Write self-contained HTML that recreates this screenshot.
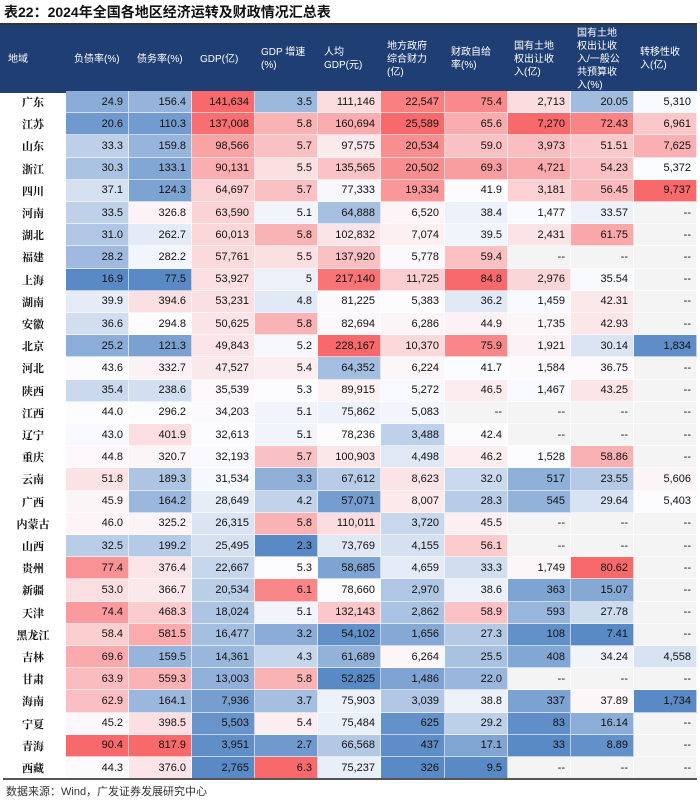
<!DOCTYPE html>
<html><head><meta charset="utf-8">
<style>
body{margin:0;width:700px;height:802px;background:#fff;font-family:"Liberation Sans","Noto Sans CJK SC",sans-serif;position:relative;overflow:hidden}
#title{position:absolute;left:4px;top:2px;font-size:14px;font-weight:bold;color:#111;font-family:"Liberation Sans","Noto Sans CJK SC",sans-serif}
#hdr{position:absolute;left:0;top:23px;width:697px;height:68px;background:#1f3f74;border-top:2px solid #333}
.h{position:absolute;color:#fff;font-size:10px;line-height:13px;display:flex;align-items:center;height:68px;top:0}
.c{position:absolute;font-size:11px;color:#111;text-align:right;box-sizing:border-box;padding-right:5px;display:flex;align-items:center;justify-content:flex-end;border-right:1px solid rgba(255,255,255,0.6);border-bottom:1px solid rgba(255,255,255,0.6)}
.r{position:absolute;font-size:11px;color:#111;text-align:center;display:flex;align-items:center;justify-content:center;font-weight:bold;font-family:"Liberation Serif","Noto Serif CJK SC",serif}
#bl{position:absolute;left:3px;top:778px;width:694px;height:2px;background:#555}
#src{position:absolute;left:6px;top:783px;font-size:11px;color:#333}
</style></head><body>
<div id="title">表22：2024年全国各地区经济运转及财政情况汇总表</div>
<div id="hdr"></div>
<div id="body"></div>
<div id="bl"></div>
<div id="src">数据来源：Wind，广发证券发展研究中心</div>
<script>
const headers=["地域","负债率(%)","债务率(%)","GDP(亿)","GDP 增速<br>(%)","人均<br>GDP(元)","地方政府<br>综合财力<br>(亿)","财政自给<br>率(%)","国有土地<br>权出让收<br>入(亿)","国有土地<br>权出让收<br>入/一般公<br>共预算收<br>入(%)","转移性收<br>入(亿)"];
const regions=["广东","江苏","山东","浙江","四川","河南","湖北","福建","上海","湖南","安徽","北京","河北","陕西","江西","辽宁","重庆","云南","广西","内蒙古","山西","贵州","新疆","天津","黑龙江","吉林","甘肃","海南","宁夏","青海","西藏"];
const debtRatio=["24.9","20.6","33.3","30.3","37.1","33.5","31.0","28.2","16.9","39.9","36.6","25.2","43.6","35.4","44.0","43.0","44.8","51.8","45.9","46.0","32.5","77.4","53.0","74.4","58.4","69.6","63.9","62.9","45.2","90.4","44.3"];
const debtBurden=["156.4","110.3","159.8","133.1","124.3","326.8","262.7","282.2","77.5","394.6","294.8","121.3","332.7","238.6","296.2","401.9","320.7","189.3","164.2","325.2","199.2","376.4","366.7","468.3","581.5","159.5","559.3","164.1","398.5","817.9","376.0"];
const gdp=["141,634","137,008","98,566","90,131","64,697","63,590","60,013","57,761","53,927","53,231","50,625","49,843","47,527","35,539","34,203","32,613","32,193","31,534","28,649","26,315","25,495","22,667","20,534","18,024","16,477","14,361","13,003","7,936","5,503","3,951","2,765"];
const gdpGrowth=["3.5","5.8","5.7","5.5","5.7","5.1","5.8","5.5","5","4.8","5.8","5.2","5.4","5.3","5.1","5.1","5.7","3.3","4.2","5.8","2.3","5.3","6.1","5.1","3.2","4.3","5.8","3.7","5.4","2.7","6.3"];
const gdpPerCap=["111,146","160,694","97,575","135,565","77,333","64,888","102,832","137,920","217,140","81,225","82,694","228,167","64,352","89,915","75,862","78,236","100,903","67,612","57,071","110,011","73,769","58,685","78,660","132,143","54,102","61,689","52,825","75,903","75,484","66,568","75,237"];
const fiscalPower=["22,547","25,589","20,534","20,502","19,334","6,520","7,074","5,778","11,725","5,383","6,286","10,370","6,224","5,272","5,083","3,488","4,498","8,623","8,007","3,720","4,155","4,659","2,970","2,862","1,656","6,264","1,486","3,039","625","437","326"];
const selfSuff=["75.4","65.6","59.0","69.3","41.9","38.4","39.5","59.4","84.8","36.2","44.9","75.9","41.7","46.5","--","42.4","46.2","32.0","28.3","45.5","56.1","33.3","38.6","58.9","27.3","25.5","22.0","38.8","29.2","17.1","9.5"];
const landRev=["2,713","7,270","3,973","4,721","3,181","1,477","2,431","--","2,976","1,459","1,735","1,921","1,584","1,467","--","--","1,528","517","545","--","--","1,749","363","593","108","408","--","337","83","33","--"];
const landRatio=["20.05","72.43","51.51","54.23","56.45","33.57","61.75","--","35.54","42.31","42.93","30.14","36.75","43.25","--","--","58.86","23.55","29.64","--","--","80.62","15.07","27.78","7.41","34.24","--","37.89","16.14","8.89","--"];
const transfer=["5,310","6,961","7,625","5,372","9,737","--","--","--","--","--","--","1,834","--","--","--","--","--","5,606","5,403","--","--","--","--","--","--","4,558","--","1,734","--","--","--"];
const cols=[debtRatio,debtBurden,gdp,gdpGrowth,gdpPerCap,fiscalPower,selfSuff,landRev,landRatio,transfer];
const colNames=["debt-ratio","debt-burden","gdp","gdp-growth","gdp-per-capita","fiscal-power","self-sufficiency","land-revenue","land-ratio","transfer-revenue"];
const xs=[0,66,129,192,255,318,381,445,508,571,634,697];
const top0=91,rh=22.2;
const hdr=document.getElementById('hdr');
headers.forEach((h,i)=>{const d=document.createElement('div');d.className='h';


d.style.left=(xs[i]+(i==0?8:i<=3?8:6))+'px';d.style.width=(xs[i+1]-xs[i]-6)+'px';d.innerHTML='<span>'+h+'</span>';hdr.appendChild(d);});
const body=document.getElementById('body');
function mix(a,b,t){return a.map((v,k)=>Math.round(v+(b[k]-v)*t));}
const RED=[248,105,107],WHITE=[252,252,255],BLUE=[90,138,198];
cols.forEach((arr,ci)=>{
 const nums=arr.filter(s=>s!=='--').map(s=>parseFloat(s.replace(/,/g,''))).sort((a,b)=>a-b);
 const mn=nums[0],mx=nums[nums.length-1];
 const n=nums.length;const med=n%2?nums[(n-1)/2]:(nums[n/2-1]+nums[n/2])/2;
 arr.forEach((s,ri)=>{
  const d=document.createElement('div');d.className='c';
  
  
  d.style.left=xs[ci+1]+'px';d.style.width=(xs[ci+2]-xs[ci+1])+'px';
  d.style.top=(top0+ri*rh)+'px';d.style.height=rh+'px';
  let bg;
  if(s==='--'){bg='#f4f4f4';}
  else{const v=parseFloat(s.replace(/,/g,''));let c;
   if(v>=med)c=mix(WHITE,RED,mx>med?(v-med)/(mx-med):0);else c=mix(WHITE,BLUE,med>mn?(med-v)/(med-mn):0);
   bg='rgb('+c.join(',')+')';}
  d.style.background=bg;d.textContent=s;body.appendChild(d);
 });
});
regions.forEach((r,ri)=>{const d=document.createElement('div');d.className='r';
 
 
 d.style.left='0px';d.style.width='66px';d.style.top=(top0+ri*rh)+'px';d.style.height=rh+'px';d.textContent=r;body.appendChild(d);});
</script>
</body></html>
